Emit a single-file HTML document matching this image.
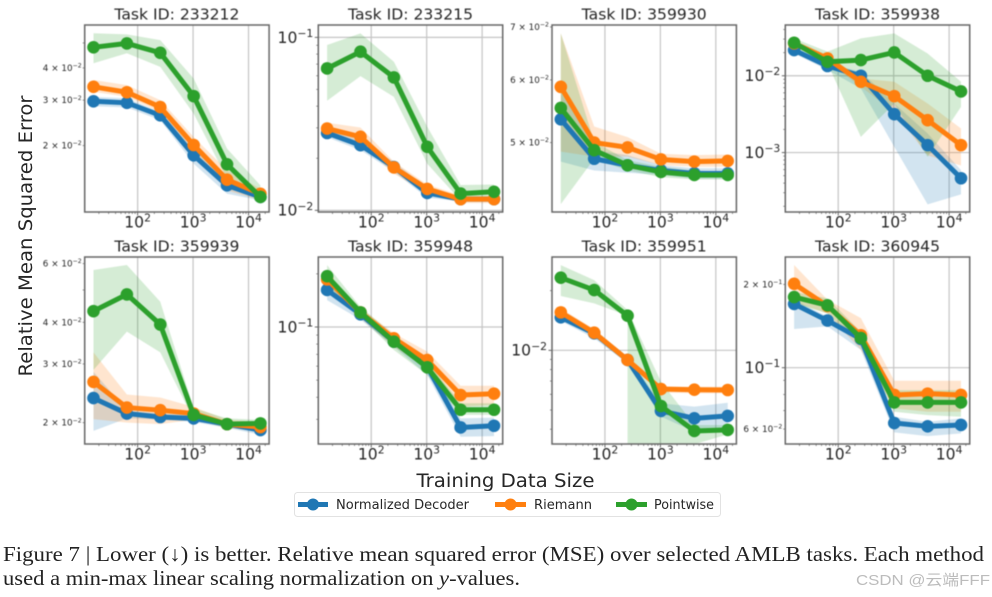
<!DOCTYPE html>
<html lang="en">
<head>
<meta charset="utf-8">
<title>Relative MSE over AMLB tasks</title>
<style>
html,body{margin:0;padding:0;background:#fff;}
body{width:992px;height:597px;overflow:hidden;}
svg{display:block;}
.dj{font-family:"DejaVu Sans","Liberation Sans",sans-serif;fill:#262626;}
.serif{font-family:"Liberation Serif","DejaVu Serif",serif;fill:#222;}
</style>
</head>
<body>
<svg id="figure" xmlns="http://www.w3.org/2000/svg" width="992" height="597" viewBox="0 0 992 597">
  <rect x="0" y="0" width="992" height="597" fill="#fff"/>
  <g id="charts" style="filter:blur(0.55px)"></g>
  <g style="filter:blur(0.35px)">
  <text class="dj" x="0" y="0" transform="translate(32,236) rotate(-90)" text-anchor="middle" font-size="19" textLength="281" lengthAdjust="spacingAndGlyphs">Relative Mean Squared Error</text>
  <text class="dj" x="505.5" y="487" text-anchor="middle" font-size="18.5" textLength="178" lengthAdjust="spacingAndGlyphs">Training Data Size</text>
  <g>
    <rect x="294.5" y="492.5" width="426" height="24" rx="3" fill="#fff" stroke="#e2e2e2"/>
    <g>
      <line x1="298" y1="504.5" x2="328" y2="504.5" stroke="#1f77b4" stroke-width="5"/>
      <circle cx="313" cy="504.5" r="6" fill="#1f77b4"/>
      <text class="dj" x="336" y="509" font-size="13" textLength="133" lengthAdjust="spacingAndGlyphs">Normalized Decoder</text>
    </g>
    <g>
      <line x1="495" y1="504.5" x2="526" y2="504.5" stroke="#ff7f0e" stroke-width="5"/>
      <circle cx="510.5" cy="504.5" r="6" fill="#ff7f0e"/>
      <text class="dj" x="534" y="509" font-size="13" textLength="58" lengthAdjust="spacingAndGlyphs">Riemann</text>
    </g>
    <g>
      <line x1="616" y1="504.5" x2="647" y2="504.5" stroke="#2ca02c" stroke-width="5"/>
      <circle cx="631.5" cy="504.5" r="6" fill="#2ca02c"/>
      <text class="dj" x="654" y="509" font-size="13" textLength="60" lengthAdjust="spacingAndGlyphs">Pointwise</text>
    </g>
  </g>
  <text class="serif" x="3" y="561" font-size="21" textLength="981" lengthAdjust="spacingAndGlyphs">Figure 7 | Lower (↓) is better. Relative mean squared error (MSE) over selected AMLB tasks. Each method</text>
  <text class="serif" x="3" y="585" font-size="21" textLength="517" lengthAdjust="spacingAndGlyphs">used a min-max linear scaling normalization on <tspan font-style="italic">y</tspan>-values.</text>
  <text x="856" y="585" font-size="15" fill="#bcbcbc" font-family="'Liberation Sans','Noto Sans CJK SC',sans-serif" textLength="134" lengthAdjust="spacingAndGlyphs">CSDN @云端FFF</text>
  </g>
</svg>
<script>
// Shared x-axis data
const sizes = [16, 64, 256, 1024, 4096, 16384];
const xTickValues = [100, 1000, 10000];
const xLimits = [11.1, 23500];

// Task 233212
const t233212Title = "Task ID: 233212";
const t233212YLim = [0.01105, 0.0587];
const t233212YTicks = [0.04, 0.03, 0.02];
const t233212Decoder = [0.0297, 0.0293, 0.0262, 0.01834, 0.01402, 0.01264];
const t233212DecoderLow = [0.0284, 0.0281, 0.0251, 0.01703, 0.0130, 0.01226];
const t233212DecoderHigh = [0.0309, 0.0305, 0.0270, 0.01976, 0.01489, 0.0130];
const t233212Riemann = [0.0338, 0.0322, 0.0282, 0.0201, 0.01475, 0.0130];
const t233212RiemannLow = [0.0323, 0.0309, 0.0270, 0.01862, 0.0134, 0.01226];
const t233212RiemannHigh = [0.0359, 0.0343, 0.0300, 0.0216, 0.01604, 0.0136];
const t233212Pointwise = [0.0481, 0.0498, 0.0458, 0.0311, 0.01692, 0.01264];
const t233212PointwiseLow = [0.0417, 0.0456, 0.0404, 0.0266, 0.01489, 0.01208];
const t233212PointwiseHigh = [0.0545, 0.0540, 0.0513, 0.0364, 0.01947, 0.01402];

// Task 233215
const t233215Title = "Task ID: 233215";
const t233215YLim = [0.00978, 0.1179];
const t233215YTicks = [0.1, 0.01];
const t233215Decoder = [0.0280, 0.0238, 0.0178, 0.0126, 0.0116, 0.0116];
const t233215DecoderLow = [0.0264, 0.0223, 0.0167, 0.0118, 0.0113, 0.0113];
const t233215DecoderHigh = [0.0297, 0.0254, 0.0191, 0.0134, 0.0119, 0.0119];
const t233215Riemann = [0.0297, 0.0266, 0.0177, 0.0133, 0.0116, 0.0116];
const t233215RiemannLow = [0.0278, 0.0243, 0.0163, 0.0125, 0.0110, 0.0110];
const t233215RiemannHigh = [0.0321, 0.0301, 0.0191, 0.0141, 0.0122, 0.0121];
const t233215Pointwise = [0.0661, 0.0826, 0.0587, 0.0233, 0.0125, 0.0128];
const t233215PointwiseLow = [0.0430, 0.0597, 0.0453, 0.0186, 0.0114, 0.0114];
const t233215PointwiseHigh = [0.0903, 0.1055, 0.0723, 0.0304, 0.0140, 0.0141];

// Task 359930
const t359930Title = "Task ID: 359930";
const t359930YLim = [0.04085, 0.0704];
const t359930YTicks = [0.07, 0.06, 0.05];
const t359930Decoder = [0.0535, 0.0477, 0.0468, 0.0461, 0.0457, 0.0457];
const t359930DecoderLow = [0.0473, 0.0461, 0.0458, 0.0455, 0.0450, 0.0450];
const t359930DecoderHigh = [0.0600, 0.0489, 0.0482, 0.0468, 0.0464, 0.0464];
const t359930Riemann = [0.0588, 0.0500, 0.0493, 0.0476, 0.0473, 0.0474];
const t359930RiemannLow = [0.0487, 0.0480, 0.0480, 0.0468, 0.0466, 0.0466];
const t359930RiemannHigh = [0.0687, 0.0524, 0.0508, 0.0484, 0.0482, 0.0483];
const t359930Pointwise = [0.0553, 0.0489, 0.0468, 0.0459, 0.0455, 0.0455];
const t359930PointwiseLow = [0.0418, 0.0477, 0.0461, 0.0452, 0.0449, 0.0449];
const t359930PointwiseHigh = [0.0687, 0.0501, 0.0475, 0.0466, 0.0461, 0.0459];

// Task 359938
const t359938Title = "Task ID: 359938";
const t359938YLim = [0.0001684, 0.0458];
const t359938YTicks = [0.01, 0.001];
const t359938Decoder = [0.0216, 0.0134, 0.0100, 0.00316, 0.00125, 0.000463];
const t359938DecoderLow = [0.0195, 0.0119, 0.00684, 0.00119, 0.000212, 0.000286];
const t359938DecoderHigh = [0.0239, 0.0145, 0.0113, 0.00436, 0.00177, 0.00059];
const t359938Riemann = [0.0264, 0.0168, 0.00835, 0.00543, 0.00264, 0.00125];
const t359938RiemannLow = [0.0239, 0.0152, 0.00719, 0.00339, 0.00092, 0.00068];
const t359938RiemannHigh = [0.0292, 0.0186, 0.00923, 0.00835, 0.00436, 0.00206];
const t359938Pointwise = [0.0269, 0.0152, 0.0160, 0.0201, 0.0100, 0.00625];
const t359938PointwiseLow = [0.0239, 0.0145, 0.0016, 0.00436, 0.00088, 0.00394];
const t359938PointwiseHigh = [0.0307, 0.0206, 0.0307, 0.0356, 0.0195, 0.00835];

// Task 359939
const t359939Title = "Task ID: 359939";
const t359939YLim = [0.01726, 0.0628];
const t359939YTicks = [0.06, 0.04, 0.03, 0.02];
const t359939Decoder = [0.0237, 0.0213, 0.0208, 0.0206, 0.0198, 0.0190];
const t359939DecoderLow = [0.0189, 0.0206, 0.0204, 0.0201, 0.0193, 0.0184];
const t359939DecoderHigh = [0.0284, 0.0218, 0.0213, 0.0211, 0.0201, 0.0195];
const t359939Riemann = [0.0265, 0.0222, 0.0218, 0.0213, 0.0198, 0.0194];
const t359939RiemannLow = [0.0205, 0.0200, 0.0198, 0.0204, 0.0193, 0.0188];
const t359939RiemannHigh = [0.0325, 0.0243, 0.0238, 0.0223, 0.0204, 0.0201];
const t359939Pointwise = [0.0432, 0.0485, 0.0394, 0.0211, 0.0198, 0.0199];
const t359939PointwiseLow = [0.0288, 0.0375, 0.0325, 0.0204, 0.0193, 0.0193];
const t359939PointwiseHigh = [0.0574, 0.0594, 0.0461, 0.0221, 0.0206, 0.0204];

// Task 359948
const t359948Title = "Task ID: 359948";
const t359948YLim = [0.02176, 0.249];
const t359948YTicks = [0.1];
const t359948Decoder = [0.162, 0.118, 0.0826, 0.0596, 0.0270, 0.0276];
const t359948DecoderLow = [0.142, 0.110, 0.0774, 0.0535, 0.0239, 0.0241];
const t359948DecoderHigh = [0.177, 0.125, 0.0863, 0.0636, 0.0304, 0.0307];
const t359948Riemann = [0.186, 0.121, 0.0863, 0.0650, 0.0412, 0.0419];
const t359948RiemannLow = [0.173, 0.112, 0.0774, 0.0583, 0.0354, 0.0362];
const t359948RiemannHigh = [0.199, 0.128, 0.0921, 0.0725, 0.0465, 0.0465];
const t359948Pointwise = [0.194, 0.121, 0.0826, 0.0591, 0.0340, 0.0340];
const t359948PointwiseLow = [0.173, 0.114, 0.0741, 0.0535, 0.0318, 0.0318];
const t359948PointwiseHigh = [0.224, 0.130, 0.0901, 0.0636, 0.0370, 0.0370];

// Task 359951 (a zero low value means the band reaches below the log axis)
const t359951Title = "Task ID: 359951";
const t359951YLim = [0.00337, 0.02956];
const t359951YTicks = [0.01];
const t359951Decoder = [0.01467, 0.01218, 0.00894, 0.00495, 0.00454, 0.00467];
const t359951DecoderLow = [0.01406, 0.01149, 0.0086, 0.00463, 0.00389, 0.00407];
const t359951DecoderHigh = [0.01537, 0.01266, 0.00929, 0.0054, 0.0052, 0.00544];
const t359951Riemann = [0.01554, 0.01228, 0.00894, 0.00638, 0.00633, 0.00631];
const t359951RiemannLow = [0.01495, 0.01172, 0.0086, 0.00614, 0.00607, 0.00607];
const t359951RiemannHigh = [0.01628, 0.01281, 0.00929, 0.00656, 0.00656, 0.00656];
const t359951Pointwise = [0.02325, 0.02014, 0.01495, 0.00524, 0.00392, 0.00397];
const t359951PointwiseLow = [0.0188, 0.01726, 0, 0, 0.00336, 0.00377];
const t359951PointwiseHigh = [0.0269, 0.0226, 0.01597, 0.00695, 0.0042, 0.0042];

// Task 360945
const t360945Title = "Task ID: 360945";
const t360945YLim = [0.053, 0.2512];
const t360945YTicks = [0.2, 0.1, 0.06];
const t360945Decoder = [0.170, 0.148, 0.127, 0.0631, 0.0614, 0.0621];
const t360945DecoderLow = [0.138, 0.141, 0.116, 0.0584, 0.0566, 0.0579];
const t360945DecoderHigh = [0.176, 0.153, 0.131, 0.0665, 0.0638, 0.0656];
const t360945Riemann = [0.201, 0.167, 0.131, 0.0797, 0.0806, 0.0797];
const t360945RiemannLow = [0.173, 0.157, 0.116, 0.0713, 0.0693, 0.0693];
const t360945RiemannHigh = [0.235, 0.176, 0.151, 0.0897, 0.0897, 0.0897];
const t360945Pointwise = [0.180, 0.168, 0.128, 0.0749, 0.0749, 0.0749];
const t360945PointwiseLow = [0.171, 0.157, 0.121, 0.0693, 0.0674, 0.0665];
const t360945PointwiseHigh = [0.188, 0.178, 0.135, 0.0830, 0.0830, 0.0830];

const svgNS = "http://www.w3.org/2000/svg";
const chartsRoot = document.getElementById("charts");
const decoderColor = "#1f77b4";
const riemannColor = "#ff7f0e";
const pointwiseColor = "#2ca02c";

function make(tag, parent, attrs) {
  const node = document.createElementNS(svgNS, tag);
  for (const key in attrs) node.setAttribute(key, attrs[key]);
  parent.appendChild(node);
  return node;
}

function decompose(v) {
  const exponent = Math.floor(Math.log10(v) + 1e-9);
  return { exponent: exponent, mantissa: Math.round(v / Math.pow(10, exponent)) };
}

function addPower(textNode, base, exponent, supSize) {
  const main = make("tspan", textNode, {});
  main.textContent = base;
  const sup = make("tspan", textNode, { dy: -supSize * 0.55, "font-size": supSize });
  sup.textContent = String(exponent).replace("-", "\u2212");
}

function drawPanel(id, left, top, title, yLim, yTicks, seriesList) {
  const width = 184.4;
  const height = 187;
  const right = left + width;
  const bottom = top + height;
  const xLogMin = Math.log10(xLimits[0]);
  const xLogMax = Math.log10(xLimits[1]);
  const yLogMin = Math.log10(yLim[0]);
  const yLogMax = Math.log10(yLim[1]);
  const xScale = function (v) { return left + width * (Math.log10(v) - xLogMin) / (xLogMax - xLogMin); };
  const yScale = function (v) { return top + height * (yLogMax - Math.log10(v)) / (yLogMax - yLogMin); };

  const panel = make("g", chartsRoot, {});
  
  

  const clip = make("clipPath", panel, { id: "clip-" + id });
  make("rect", clip, { x: left, y: top, width: width, height: height });

  const titleNode = make("text", panel, { class: "dj", x: left + width / 2, y: top - 5.5, "text-anchor": "middle", "font-size": 15.4, textLength: 125, lengthAdjust: "spacingAndGlyphs" });
  
  
  titleNode.textContent = title;

  // Gridlines and x ticks
  xTickValues.forEach(function (tick) {
    const x = xScale(tick);
    const grid = make("line", panel, { x1: x, x2: x, y1: top, y2: bottom, stroke: "#c4c4c4", "stroke-width": 1.2 });
    
    
    const mark = make("line", panel, { x1: x, x2: x, y1: bottom, y2: bottom + 3.5, stroke: "#444", "stroke-width": 0.8 });
    
    
    const label = make("text", panel, { class: "dj", x: x, y: bottom + 15.5, "text-anchor": "middle", "font-size": 15.6 });
    
    
    addPower(label, "10", Math.round(Math.log10(tick)), 10.8);
  });

  // x minor ticks
  for (let e = 1; e <= 4; e++) {
    for (let m = 2; m <= 9; m++) {
      const v = m * Math.pow(10, e);
      if (v < xLimits[0] || v > xLimits[1]) continue;
      const x = xScale(v);
      const minor = make("line", panel, { x1: x, x2: x, y1: bottom, y2: bottom + 2, stroke: "#444", "stroke-width": 0.6 });
      
      
    }
  }

  // y minor tick marks
  for (let e = Math.floor(yLogMin); e <= Math.ceil(yLogMax); e++) {
    for (let m = 2; m <= 9; m++) {
      const v = m * Math.pow(10, e);
      if (v < yLim[0] || v > yLim[1]) continue;
      const y = yScale(v);
      const minor = make("line", panel, { x1: left - 2, x2: left, y1: y, y2: y, stroke: "#444", "stroke-width": 0.6 });
      
      
    }
  }

  // y ticks with labels: powers of ten are major, others are small minor labels
  yTicks.forEach(function (tick) {
    const y = yScale(tick);
    const parts = decompose(tick);
    if (parts.mantissa === 1) {
      const grid = make("line", panel, { x1: left, x2: right, y1: y, y2: y, stroke: "#c4c4c4", "stroke-width": 1.2 });
      
      
      const mark = make("line", panel, { x1: left - 3.5, x2: left, y1: y, y2: y, stroke: "#444", "stroke-width": 0.8 });
      
      
      const label = make("text", panel, { class: "dj", x: left - 5, y: y + 5.4, "text-anchor": "end", "font-size": 15.6 });
      
      
      addPower(label, "10", parts.exponent, 10.8);
    } else {
      const label = make("text", panel, { class: "dj", x: left - 3, y: y + 3, "text-anchor": "end", "font-size": 8.8 });
      
      
      addPower(label, parts.mantissa + " \u00d7 10", parts.exponent, 6.2);
    }
  });

  // Series
  const plot = make("g", panel, { "clip-path": "url(#clip-" + id + ")" });
  
  

  seriesList.forEach(function (s) {
    const pts = [];
    sizes.forEach(function (size, i) {
      pts.push(xScale(size).toFixed(2) + "," + yScale(s.high[i]).toFixed(2));
    });
    for (let i = sizes.length - 1; i >= 0; i--) {
      const x = xScale(sizes[i]).toFixed(2);
      if (s.low[i] > 0) {
        pts.push(x + "," + yScale(s.low[i]).toFixed(2));
      } else {
        pts.push(x + "," + (bottom + 3));
        if (i > 0 && s.low[i - 1] > 0) pts.push(x + "," + yScale(s.mean[i]).toFixed(2));
      }
    }
    const band = make("polygon", plot, { points: pts.join(" "), fill: s.color, "fill-opacity": 0.2, stroke: "none" });
    
    
  });

  seriesList.forEach(function (s) {
    const linePts = sizes.map(function (size, i) {
      return xScale(size).toFixed(2) + "," + yScale(s.mean[i]).toFixed(2);
    });
    const line = make("polyline", plot, { points: linePts.join(" "), fill: "none", stroke: s.color, "stroke-width": 5, "stroke-linejoin": "round" });
    
    
    sizes.forEach(function (size, i) {
      const dot = make("circle", plot, { cx: xScale(size).toFixed(2), cy: yScale(s.mean[i]).toFixed(2), r: 6.3, fill: s.color });
      
      
    });
  });

  const frame = make("rect", panel, { x: left, y: top, width: width, height: height, fill: "none", stroke: "#666", "stroke-width": 1.5 });
  
  
}

function trio(d, dl, dh, r, rl, rh, p, pl, ph) {
  return [
    { name: "normalized-decoder", color: decoderColor, mean: d, low: dl, high: dh },
    { name: "riemann", color: riemannColor, mean: r, low: rl, high: rh },
    { name: "pointwise", color: pointwiseColor, mean: p, low: pl, high: ph }
  ];
}

drawPanel("233212", 84.7, 25, t233212Title, t233212YLim, t233212YTicks,
  trio(t233212Decoder, t233212DecoderLow, t233212DecoderHigh, t233212Riemann, t233212RiemannLow, t233212RiemannHigh, t233212Pointwise, t233212PointwiseLow, t233212PointwiseHigh));
drawPanel("233215", 318.3, 25, t233215Title, t233215YLim, t233215YTicks,
  trio(t233215Decoder, t233215DecoderLow, t233215DecoderHigh, t233215Riemann, t233215RiemannLow, t233215RiemannHigh, t233215Pointwise, t233215PointwiseLow, t233215PointwiseHigh));
drawPanel("359930", 552, 25, t359930Title, t359930YLim, t359930YTicks,
  trio(t359930Decoder, t359930DecoderLow, t359930DecoderHigh, t359930Riemann, t359930RiemannLow, t359930RiemannHigh, t359930Pointwise, t359930PointwiseLow, t359930PointwiseHigh));
drawPanel("359938", 785.3, 25, t359938Title, t359938YLim, t359938YTicks,
  trio(t359938Decoder, t359938DecoderLow, t359938DecoderHigh, t359938Riemann, t359938RiemannLow, t359938RiemannHigh, t359938Pointwise, t359938PointwiseLow, t359938PointwiseHigh));
drawPanel("359939", 84.7, 257, t359939Title, t359939YLim, t359939YTicks,
  trio(t359939Decoder, t359939DecoderLow, t359939DecoderHigh, t359939Riemann, t359939RiemannLow, t359939RiemannHigh, t359939Pointwise, t359939PointwiseLow, t359939PointwiseHigh));
drawPanel("359948", 318.3, 257, t359948Title, t359948YLim, t359948YTicks,
  trio(t359948Decoder, t359948DecoderLow, t359948DecoderHigh, t359948Riemann, t359948RiemannLow, t359948RiemannHigh, t359948Pointwise, t359948PointwiseLow, t359948PointwiseHigh));
drawPanel("359951", 552, 257, t359951Title, t359951YLim, t359951YTicks,
  trio(t359951Decoder, t359951DecoderLow, t359951DecoderHigh, t359951Riemann, t359951RiemannLow, t359951RiemannHigh, t359951Pointwise, t359951PointwiseLow, t359951PointwiseHigh));
drawPanel("360945", 785.3, 257, t360945Title, t360945YLim, t360945YTicks,
  trio(t360945Decoder, t360945DecoderLow, t360945DecoderHigh, t360945Riemann, t360945RiemannLow, t360945RiemannHigh, t360945Pointwise, t360945PointwiseLow, t360945PointwiseHigh));
</script>
</body>
</html>
